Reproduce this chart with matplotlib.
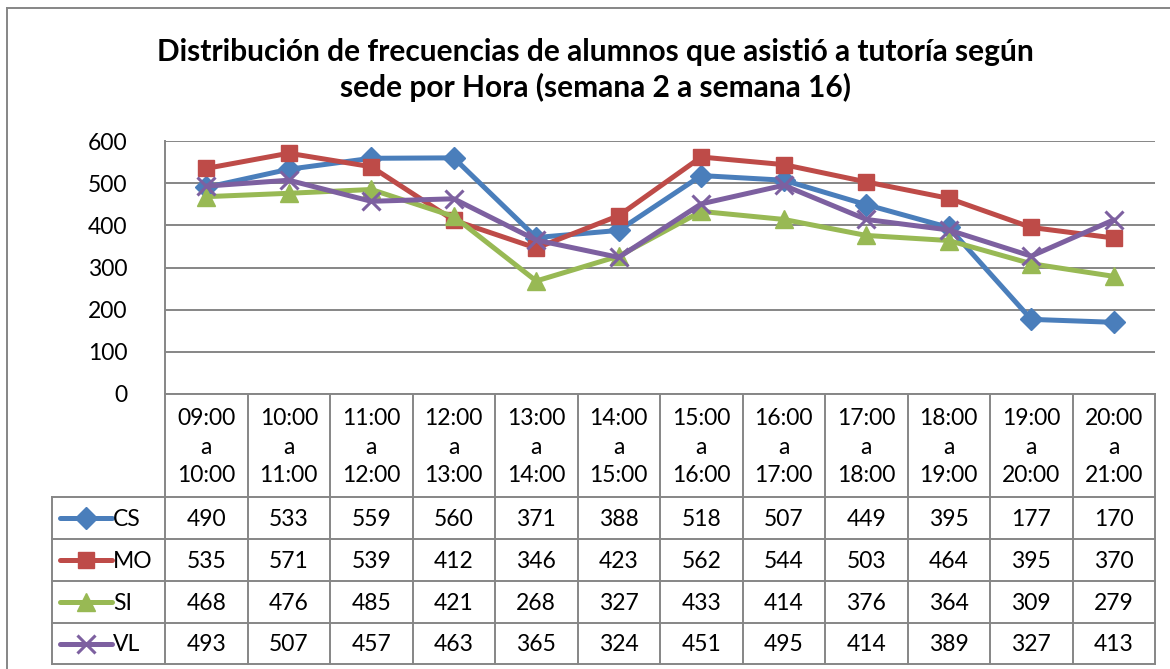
import matplotlib
matplotlib.use("Agg")
import matplotlib.pyplot as plt
from matplotlib.lines import Line2D

plt.rcParams['font.family'] = ['Lato', 'DejaVu Sans']

# data
start_hours = ["09:00", "10:00", "11:00", "12:00", "13:00", "14:00",
               "15:00", "16:00", "17:00", "18:00", "19:00", "20:00"]
end_hours = ["10:00", "11:00", "12:00", "13:00", "14:00", "15:00",
             "16:00", "17:00", "18:00", "19:00", "20:00", "21:00"]
cs = [490, 533, 559, 560, 371, 388, 518, 507, 449, 395, 177, 170]
mo = [535, 571, 539, 412, 346, 423, 562, 544, 503, 464, 395, 370]
si = [468, 476, 485, 421, 268, 327, 433, 414, 376, 364, 309, 279]
vl = [493, 507, 457, 463, 365, 324, 451, 495, 414, 389, 327, 413]

series = [
    ("CS", cs, "#4A7EBB", "D", 11, 1),
    ("MO", mo, "#BE4B48", "s", 12, 1),
    ("SI", si, "#98B954", "^", 13, 1),
    ("VL", vl, "#7D60A0", "x", 13, 2.2),
]
labels = [a + "\na\n" + b for a, b in zip(start_hours, end_hours)]

W, H = 1170, 669
GRID = "#868686"
FS = 16.5


def box(l, t, r, b):
    return [l / W, 1 - b / H, (r - l) / W, (b - t) / H]


fig = plt.figure(figsize=(W / 100, H / 100), dpi=100)

# plot area
ax = fig.add_axes(box(165, 141, 1155, 394))
x = list(range(len(cs)))
for name, vals, color, marker, ms, mew in series:
    ax.plot(x, vals, color=color, lw=3.6, marker=marker, ms=ms,
            mfc=color, mec=color, mew=mew, solid_joinstyle="round",
            solid_capstyle="round", zorder=3)
ax.set_xlim(-0.5, 11.5)
ax.set_ylim(0, 600)
ax.set_yticks(range(0, 601, 100))
ax.set_xticks([])
ax.yaxis.grid(True, color=GRID, lw=1.4)
ax.set_axisbelow(True)
for s in ["top", "right", "bottom"]:
    ax.spines[s].set_visible(False)
ax.spines["left"].set_color(GRID)
ax.spines["left"].set_linewidth(1.4)
ax.tick_params(axis="y", length=0, pad=27, labelsize=FS)

# data table below, x in category units so columns line up
col_w = 990 / 12
left_u = -0.5 - (165 - 52) / col_w
tab = fig.add_axes(box(52, 394, 1155, 665))
tab.set_xlim(left_u, 11.5)
tab.set_ylim(665, 394)
tab.axis("off")

row_edges = [497, 539, 581, 623, 664]
lk = dict(color=GRID, lw=1.4, clip_on=False)
for k in range(13):
    tab.plot([k - 0.5, k - 0.5], [394, 664], **lk)
tab.plot([left_u, left_u], [497, 664], **lk)
for y in row_edges:
    tab.plot([left_u, 11.5], [y, y], **lk)
tab.plot([-0.5, 11.5], [394, 394], **lk)

for i, lab in enumerate(labels):
    tab.text(i, 447, lab, ha="center", va="center", fontsize=FS,
             linespacing=1.45)


def px2u(px):
    return -0.5 + (px - 165) / col_w


for r, (name, vals, color, marker, ms, mew) in enumerate(series):
    yc = (row_edges[r] + row_edges[r + 1]) / 2
    for i, v in enumerate(vals):
        tab.text(i, yc + 1, str(v), ha="center", va="center", fontsize=FS)
    tab.plot([px2u(60), px2u(112)], [yc, yc], color=color, lw=3.6,
             solid_capstyle="round", clip_on=False)
    tab.plot([px2u(86)], [yc], marker=marker, ms=ms, color=color,
             mfc=color, mec=color, mew=mew, clip_on=False)
    tab.text(px2u(113), yc + 1, name, ha="left", va="center", fontsize=FS)

# outer chart frame (right and bottom run off the picture)
fig.add_artist(Line2D([7 / W, 1], [1 - 8 / H, 1 - 8 / H], color=GRID, lw=1.4))
fig.add_artist(Line2D([7 / W, 7 / W], [1 - 8 / H, 0], color=GRID, lw=1.4))

fig.text(595 / W, 1 - 70 / H,
         "Distribución de frecuencias de alumnos que asistió a tutoría según\n"
         "sede por Hora (semana 2 a semana 16)",
         ha="center", va="center", fontsize=21.5, fontweight="bold",
         linespacing=1.3)

fig.savefig("out.png", dpi=100)
